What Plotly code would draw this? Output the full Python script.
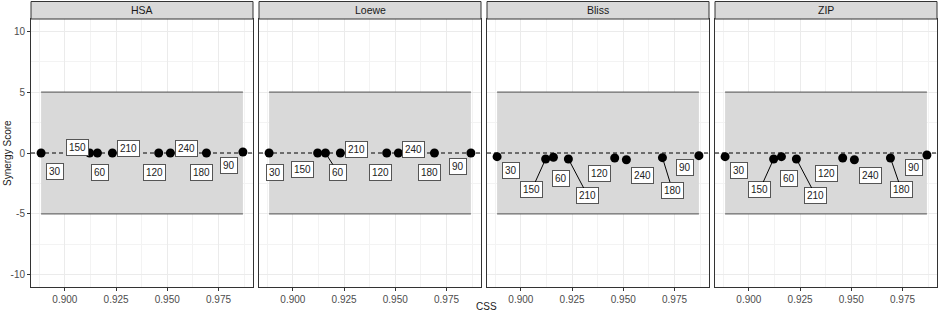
import plotly.graph_objects as go

# ---------------- data ----------------
methods = ["HSA", "Loewe", "Bliss", "ZIP"]
doses = [30, 60, 90, 120, 150, 180, 210, 240]
css = [0.8884, 0.9159, 0.9869, 0.9458, 0.9121, 0.9691, 0.9232, 0.9515]
score_hsa = [0.0, 0.0, 0.08, 0.0, 0.0, 0.0, 0.0, 0.0]
score_loewe = [0.0, 0.0, 0.0, 0.0, 0.0, 0.0, 0.0, 0.0]
score_bliss = [-0.30, -0.35, -0.22, -0.41, -0.49, -0.38, -0.49, -0.55]
score_zip = [-0.30, -0.30, -0.16, -0.41, -0.49, -0.41, -0.49, -0.55]
band_low, band_high = -5, 5
y_ticks = [-10, -5, 0, 5, 10]
x_ticks = [0.900, 0.925, 0.950, 0.975]

scores = {"HSA": score_hsa, "Loewe": score_loewe, "Bliss": score_bliss, "ZIP": score_zip}

# ---------------- label placement (pixel offsets, repel-like) ----------------
label_offsets = {
    "HSA":   [(14, 18), (3, 19.5), (-13.5, 13), (-4.5, 19.5), (-12, -6), (-4.5, 19.5), (16, -5), (16.5, -5)],
    "Loewe": [(6, 19.5), (12.5, 19.5), (-13, 13), (-6, 19.5), (-15, 16), (-5, 19), (16, -3.5), (15.5, -3.5)],
    "Bliss": [(13.5, 13.5), (7.5, 21), (-13.5, 12), (-15.5, 16), (-14, 31), (10, 32.5), (19.5, 37), (16, 15.5)],
    "ZIP":   [(14, 13.5), (7.5, 21.5), (-13, 13), (-16, 16), (-14, 31), (11, 32), (19.5, 37), (16, 15.5)],
}
label_segments = {
    "HSA": [],
    "Loewe": [60],
    "Bliss": [150, 180, 210],
    "ZIP": [150, 180, 210],
}

# ---------------- layout geometry ----------------
W, H = 941, 313
ML, MR, MT, MB = 31, 4, 19, 26
plot_w = W - ML - MR
plot_h = H - MT - MB
panel_w, gap = 222, 6
FONT = "Liberation Sans, Arial, Helvetica, sans-serif"

xmin, xmax = min(css), max(css)
pad = 0.05 * (xmax - xmin)
x_range = [xmin - pad, xmax + pad]
y_range = [-11, 11]

fig = go.Figure()
shapes = []
annotations = []

for i, m in enumerate(methods):
    n = "" if i == 0 else str(i + 1)
    xa, ya = "x" + n, "y" + n
    d0 = (i * (panel_w + gap)) / plot_w
    d1 = (i * (panel_w + gap) + panel_w) / plot_w
    axis_common = dict(showline=True, mirror=True, linecolor="#333333", linewidth=1,
                       zeroline=False, gridcolor="#ebebeb", gridwidth=1,
                       tickfont=dict(family=FONT, size=10, color="#4d4d4d"),
                       ticks="outside", ticklen=3, tickcolor="#333333", tickwidth=1)
    fig.layout["xaxis" + n] = dict(
        domain=[d0, d1], range=x_range, anchor=ya,
        tickvals=x_ticks, ticktext=[f"{v:.3f}" for v in x_ticks],
        minor=dict(tickvals=[0.8875, 0.9125, 0.9375, 0.9625, 0.9875], showgrid=True,
                   gridcolor="#f3f3f3", gridwidth=0.6, ticks=""),
        **axis_common)
    yax = dict(domain=[0, 1], range=y_range, anchor=xa,
               tickvals=y_ticks, ticktext=[str(v) for v in y_ticks],
               minor=dict(tickvals=[-7.5, -2.5, 2.5, 7.5], showgrid=True,
                          gridcolor="#f3f3f3", gridwidth=0.6, ticks=""),
               **axis_common)
    if i > 0:
        yax["showticklabels"] = False
        yax["ticks"] = ""
    fig.layout["yaxis" + n] = yax

    # shaded band between thresholds (as filled trace, above grid)
    fig.add_trace(go.Scatter(x=[xmin, xmax, xmax, xmin, xmin],
                             y=[band_low, band_low, band_high, band_high, band_low],
                             mode="lines", fill="toself", fillcolor="#d9d9d9",
                             line=dict(width=0, color="rgba(0,0,0,0)"),
                             xaxis=xa, yaxis=ya, showlegend=False, hoverinfo="skip"))
    for yv in (band_low, band_high):
        fig.add_trace(go.Scatter(x=[xmin, xmax], y=[yv, yv], mode="lines",
                                 line=dict(color="#4d4d4d", width=1),
                                 xaxis=xa, yaxis=ya, showlegend=False, hoverinfo="skip"))
    # dashed zero line across the panel
    fig.add_trace(go.Scatter(x=x_range, y=[0, 0], mode="lines",
                             line=dict(color="black", width=1, dash="4px,3px"),
                             xaxis=xa, yaxis=ya, showlegend=False, hoverinfo="skip"))
    # strip
    shapes.append(dict(type="rect", xref="paper", yref="paper", x0=d0, x1=d1,
                       y0=1, y1=1 + 17.5 / plot_h, fillcolor="#d9d9d9",
                       line=dict(color="#333333", width=1)))
    annotations.append(dict(xref="paper", yref="paper", x=(d0 + d1) / 2, y=1 + 8.8 / plot_h,
                            text=m, showarrow=False, xanchor="center", yanchor="middle",
                            font=dict(family=FONT, size=10.5, color="#1a1a1a")))

    # points
    fig.add_trace(go.Scatter(x=css, y=scores[m], mode="markers", xaxis=xa, yaxis=ya,
                             marker=dict(size=9, color="black"), showlegend=False,
                             hoverinfo="skip", cliponaxis=False))
    # labels
    for k, dose in enumerate(doses):
        dx, dy = label_offsets[m][k]
        seg = dose in label_segments[m]
        annotations.append(dict(
            xref=xa, yref=ya, x=css[k], y=scores[m][k], text=str(dose),
            showarrow=True, ax=dx, ay=dy, arrowhead=0, arrowwidth=1,
            arrowcolor="black" if seg else "rgba(0,0,0,0)", standoff=3,
            bgcolor="white", bordercolor="#555555", borderwidth=1, borderpad=2,
            font=dict(family=FONT, size=10, color="#222222")))

# axis titles
annotations.append(dict(xref="paper", yref="paper", x=(486 - ML) / plot_w,
                        y=-(306 - (MT + plot_h)) / plot_h,
                        text="CSS", showarrow=False, xanchor="center", yanchor="middle",
                        font=dict(family=FONT, size=10, color="#1a1a1a")))
annotations.append(dict(xref="paper", yref="paper", x=(7 - ML) / plot_w, y=0.5,
                        text="Synergy Score", showarrow=False, textangle=-90,
                        xanchor="center", yanchor="middle",
                        font=dict(family=FONT, size=10, color="#1a1a1a")))

fig.update_layout(width=W, height=H, margin=dict(l=ML, r=MR, t=MT, b=MB),
                  paper_bgcolor="white", plot_bgcolor="white",
                  shapes=shapes, annotations=annotations, showlegend=False)
fig.write_html("out.html", config={"displayModeBar": False},
               post_script="document.body.style.margin='0';document.body.style.overflow='hidden';")
